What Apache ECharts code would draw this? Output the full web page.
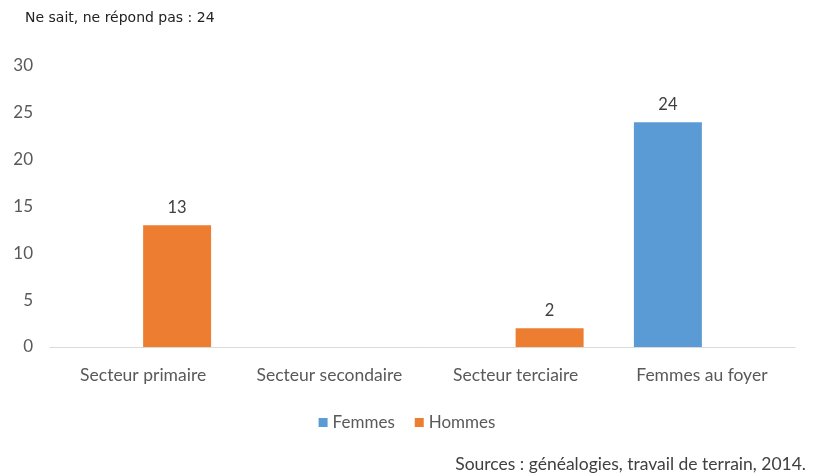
<!DOCTYPE html>
<html lang="fr">
  <head>
    <meta charset="UTF-8" />
    <title>Secteurs d'activité</title>
    <script src="https://cdn.jsdelivr.net/npm/echarts@6/dist/echarts.min.js"></script>
    <style>
      html, body { margin: 0; padding: 0; background: #fff; }
      #chart { width: 814px; height: 476px; }
    </style>
  </head>
  <body>
    <div id="chart"></div>
    <script>
      var categories = ['Secteur primaire', 'Secteur secondaire', 'Secteur terciaire', 'Femmes au foyer'];
      var femmes = [null, null, null, 24];
      var hommes = [13, null, 2, null];
      var noteText = 'Ne sait, ne répond pas : 24';
      var sourceText = 'Sources : généalogies, travail de terrain, 2014.';

      var chart = echarts.init(document.getElementById('chart'));
      var font = 'Lato, "Open Sans", sans-serif';
      var option = {
        animation: false,
        textStyle: { fontFamily: font },
        grid: { left: 50, right: 19, top: 66, bottom: 129 },
        legend: {
          data: ['Femmes', 'Hommes'],
          bottom: 40,
          left: 'center',
          itemWidth: 9,
          itemHeight: 9,
          itemGap: 20,
          icon: 'rect',
          textStyle: { color: '#595959', fontSize: 17, fontFamily: font }
        },
        xAxis: {
          type: 'category',
          data: categories,
          axisLine: { lineStyle: { color: '#d9d9d9', width: 1 } },
          axisTick: { show: false },
          axisLabel: { color: '#595959', fontSize: 17.5, margin: 19, interval: 0 }
        },
        yAxis: {
          type: 'value',
          min: 0,
          max: 30,
          interval: 5,
          splitLine: { show: false },
          axisLine: { show: false },
          axisLabel: { color: '#595959', fontSize: 17, margin: 17 }
        },
        series: [
          {
            name: 'Femmes',
            type: 'bar',
            data: femmes,
            barGap: '0%',
            barCategoryGap: '27%',
            itemStyle: { color: '#5b9bd5' },
            label: { show: true, position: 'top', color: '#404040', fontSize: 16.5, distance: 9 }
          },
          {
            name: 'Hommes',
            type: 'bar',
            data: hommes,
            barGap: '0%',
            barCategoryGap: '27%',
            itemStyle: { color: '#ed7d31' },
            label: { show: true, position: 'top', color: '#404040', fontSize: 16.5, distance: 9 }
          }
        ],
        graphic: [
          {
            type: 'text',
            left: 25,
            top: 11,
            style: { text: noteText, fill: '#222', fontSize: 14, fontFamily: '"DejaVu Sans", sans-serif' }
          },
          {
            type: 'text',
            right: 8,
            top: 455,
            style: { text: sourceText, fill: '#404040', fontSize: 17.5, fontFamily: font }
          }
        ]
      };
      chart.setOption(option);
    </script>
  </body>
</html>
